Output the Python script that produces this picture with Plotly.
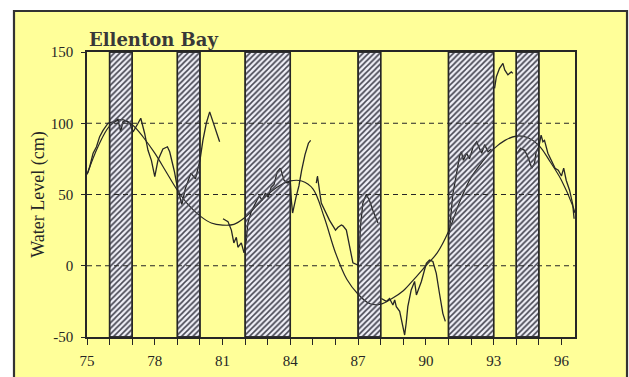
import plotly.graph_objects as go

# ---- data -------------------------------------------------------------
# hatched periods (start / end year)
shade_start = [76, 79, 82, 87, 91, 94]
shade_end = [77, 80, 84, 88, 93, 95]

# smooth long-term trend of water level
trend_year = [75.0, 75.5, 76.0, 76.5, 77.0, 77.5, 78.0, 78.5, 79.0, 79.5,
              80.0, 80.5, 81.0, 81.5, 82.0, 82.5, 83.0, 83.5, 84.0, 84.5,
              85.0, 85.5, 86.0, 86.5, 87.0, 87.5, 88.0, 88.5, 89.0, 89.5,
              90.0, 90.5, 91.0, 91.5, 92.0, 92.5, 93.0, 93.5, 94.0, 94.5,
              95.0, 95.5, 96.0, 96.5, 96.6]
trend_level = [64, 84, 98, 102.5, 99, 90, 79, 66, 53, 42.5,
               35, 30, 28.5, 29, 34, 42, 50, 56, 59.5, 59.5,
               54, 34, 9, -9.5, -20, -26.5, -27, -23, -17.5, -9,
               0, 9, 24, 45, 62, 73, 82, 88, 91, 90,
               84.5, 73, 60, 42, 37]

# observed water level (None = gap in record)
obs_year = [
    75.03, 75.12, 75.27, 75.42, 75.56, 75.71, 75.93, 76.15, 76.37, 76.49,
    76.59, 76.74, 76.89, 77.04, 77.26, 77.38, 77.55, 77.70, 77.85, 78.00,
    78.14, 78.36, 78.56, 78.66, 78.81, 78.87, 79.01, 79.2, 79.35, 79.6,
    79.8, 80.0, 80.13, 80.28, 80.43, 80.58, 80.73, 80.87, None,
    81.02, 81.24, 81.39, 81.5, 81.61, 81.68, 81.83, 81.95, 82.05, 82.12,
    82.27, 82.5, 82.62, 82.75, 82.9, 83.02, 83.15, 83.28, 83.42, 83.56,
    83.72, 83.86, 84.0, 84.05, 84.1, 84.25, 84.38, 84.5, 84.65, 84.8,
    84.9, None,
    85.15, 85.2, 85.37, 85.51, 85.73, 86.0, 86.11, 86.26, 86.33, 86.48,
    86.62, 86.77, 86.99, 87.05, 87.1, 87.21, 87.36, 87.5, 87.65, 87.88, None,
    88.03, 88.25, 88.39, 88.54, 88.62, 88.69, 88.84, 88.98, 89.06, 89.13,
    89.2, 89.35, 89.5, 89.58, 89.72, 89.8, 90.02, 90.16, 90.31, 90.46,
    90.6, 90.75, 90.86, None,
    91.03, 91.1, 91.19, 91.34, 91.49, 91.57, 91.66, 91.8, 91.93, 92.1,
    92.25, 92.38, 92.47, 92.6, 92.75, 92.9, None,
    93.04, 93.12, 93.26, 93.41, 93.49, 93.63, 93.78, 93.85, None,
    94.04, 94.19, 94.37, 94.51, 94.69, 94.81, 94.88, 95.0, 95.1, 95.18,
    95.25, 95.4, 95.55, 95.72, 95.86, 96.0, 96.1, 96.21, 96.36, 96.5,
    96.56,
]
obs_level = [
    65, 69.5, 79, 83.5, 90.6, 95, 100, 101, 102.8, 94,
    101, 101.8, 100, 94, 100, 103.5, 93, 81, 74, 62.5,
    74, 82, 83.5, 80, 70, 66, 54, 43, 54, 65,
    61, 74, 88, 100, 108, 101, 93, 87, None,
    33, 31, 25, 16, 20, 13, 16, 9, 18, 30,
    38, 45, 49, 46, 51, 48, 55, 57, 66, 68.5,
    60, 58, 59, 45, 37, 48, 56, 67, 78, 86,
    88, None,
    58, 63, 44, 39, 32, 25, 27, 28.6, 28, 25,
    14, 2, 0.5, 6, 27, 44, 50, 46, 39, 30, None,
    -23, -25, -23, -27.5, -24, -28.7, -32, -43, -48.6, -40,
    -28.7, -17, -11, -20.5, -14.7, -11, 1.7, 4, 3, -5.3,
    -19.3, -33.4, -39, None,
    22, 33, 50, 63, 77, 80, 74, 79, 75, 84,
    87, 82, 79, 85, 80, 82, None,
    124.5, 132.7, 138.5, 142, 137.4, 134, 136, 135, None,
    79, 82.4, 81, 76.5, 68.4, 72, 80, 83.5, 91.7, 87,
    88, 79, 74, 68.4, 67, 63, 68.5, 60, 53, 43,
    33,
]

x_labels = [75, 78, 81, 84, 87, 90, 93, 96]
y_ticks = [-50, 0, 50, 100, 150]
grid_levels = [0, 50, 100]
x_range = [75, 96.6]
y_range = [-50, 150]

# ---- styling ----------------------------------------------------------
YELLOW = "#FFFF99"
INK = "#262626"
HATCH = "#50505c"
HATCH_BG = "#eeeef6"
SERIF = "Liberation Serif"

# rectangle outlines of the hatched periods
px, py = [], []
for s, e in zip(shade_start, shade_end):
    px += [s, s, e, e, s, None]
    py += [y_range[0], y_range[1], y_range[1], y_range[0], y_range[0], None]

hatch = dict(shape="/", size=4, solidity=0.3, fgcolor=HATCH,
             fillmode="replace")

fig = go.Figure()

# hatched periods: opaque light backing underneath the curves
fig.add_trace(go.Scatter(
    x=px, y=py, mode="lines", fill="toself", fillcolor=HATCH_BG,
    fillpattern=dict(hatch, bgcolor=HATCH_BG),
    line=dict(color=INK, width=1.4),
    hoverinfo="skip", showlegend=False,
))

# observed record
fig.add_trace(go.Scatter(
    x=obs_year, y=obs_level, mode="lines",
    line=dict(color=INK, width=1.3), connectgaps=False,
    hoverinfo="skip", showlegend=False,
))

# smooth trend
fig.add_trace(go.Scatter(
    x=trend_year, y=trend_level, mode="lines", line_shape="spline",
    line=dict(color=INK, width=1.2),
    hoverinfo="skip", showlegend=False,
))

# hatch strokes repeated over the curves so they read as broken inside
fig.add_trace(go.Scatter(
    x=px, y=py, mode="lines", fill="toself", fillcolor="rgba(0,0,0,0)",
    fillpattern=dict(hatch, bgcolor="rgba(0,0,0,0)"),
    line=dict(color=INK, width=1.4),
    hoverinfo="skip", showlegend=False,
))

shapes = [
    # yellow panel with dark frame
    dict(type="rect", xref="paper", yref="paper",
         x0=-0.1496, x1=1.1066, y0=-0.2, y1=1.1439,
         fillcolor=YELLOW, line=dict(color="#333333", width=2.2),
         layer="below"),
]
for g in grid_levels:
    shapes.append(dict(type="line", xref="paper", yref="y", x0=0, x1=1,
                       y0=g, y1=g, layer="above",
                       line=dict(color=INK, width=1.2, dash="5px,4px")))

fig.update_layout(
    width=629, height=377,
    margin=dict(l=87, r=54, t=52, b=40, autoexpand=False),
    paper_bgcolor="white", plot_bgcolor=YELLOW,
    font=dict(family=SERIF, size=15, color=INK),
    shapes=shapes,
    annotations=[dict(
        text="<b>Ellenton Bay</b>", xref="paper", yref="paper",
        x=0.0, y=1.045, xanchor="left", yanchor="middle", showarrow=False,
        font=dict(family="DejaVu Serif", size=18, color="#383838"),
    )],
    xaxis=dict(
        range=x_range, showgrid=False, zeroline=False, automargin=False,
        showline=True, mirror=True, linecolor=INK, linewidth=1.6,
        tickmode="array", tickvals=x_labels,
        ticktext=[str(v) for v in x_labels],
        ticks="outside", ticklen=6, tickwidth=1.3, tickcolor=INK,
        ticklabelstandoff=3,
        minor=dict(dtick=1, tick0=75, ticks="outside", ticklen=6,
                   tickwidth=1.3, tickcolor=INK, showgrid=False),
        tickfont=dict(family=SERIF, size=15),
    ),
    yaxis=dict(
        range=y_range, showgrid=False, zeroline=False, automargin=False,
        showline=True, mirror=True, linecolor=INK, linewidth=1.6,
        tickmode="array", tickvals=y_ticks,
        ticktext=[str(v) for v in y_ticks],
        ticks="outside", ticklen=4, tickwidth=1.3, tickcolor=INK,
        ticklabelstandoff=5,
        tickfont=dict(family=SERIF, size=15),
        title=dict(text="Water Level (cm)", standoff=1,
                   font=dict(family=SERIF, size=18)),
    ),
)

fig.write_html("out.html")
